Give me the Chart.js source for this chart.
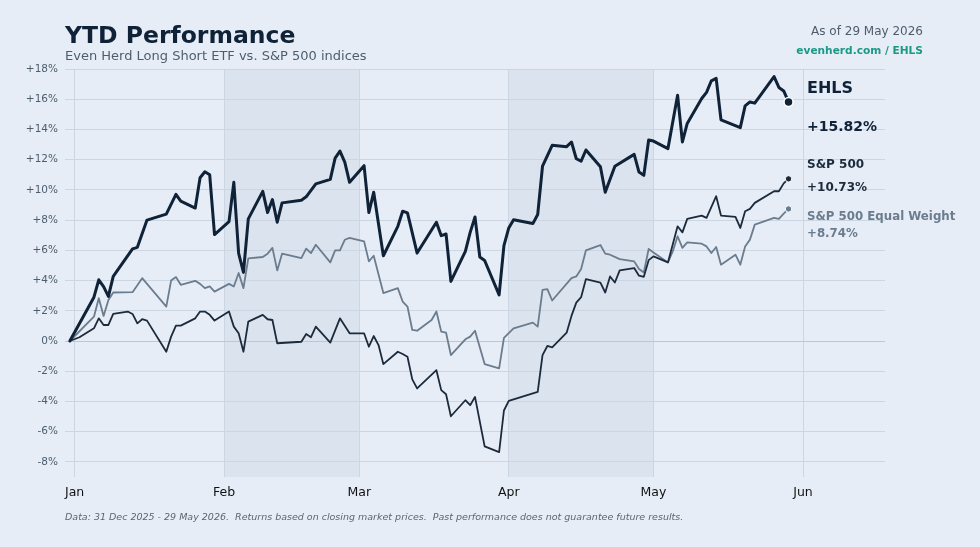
<!DOCTYPE html>
<html>
<script src="https://cdn.jsdelivr.net/npm/chart.js@4.4.1/dist/chart.umd.min.js"></script>
<body style="margin:0;background-color:#e6edf7;">
<canvas id="perfChart" width="980" height="547"></canvas>

<script>
// x values are days since 1 Jan 2026 (31 Dec 2025 = -1)
var monthDays = [0, 31, 59, 90, 120, 151];
var monthLabels = ['Jan', 'Feb', 'Mar', 'Apr', 'May', 'Jun'];
var yTicks = [-8, -6, -4, -2, 0, 2, 4, 6, 8, 10, 12, 14, 16, 18];
var shadedMonths = [[31, 59], [90, 120]];

var ehlsDays = [-1,4,5,6,7,8,12,13,15,19,21,22,25,26,27,28,29,32,33,34,35,36,39,40,41,42,43,47,48,50,53,54,55,56,57,60,61,62,64,67,68,69,71,75,76,77,78,81,82,83,84,85,88,89,90,91,95,96,97,99,102,103,104,105,106,109,110,112,116,117,118,119,120,123,125,126,127,130,131,132,133,134,138,139,140,141,145,146,147,148];
var ehlsValues = [0,2.9,4.05,3.6,2.95,4.27,6.1,6.2,8.0,8.4,9.7,9.25,8.8,10.8,11.2,11.0,7.04,7.9,10.5,5.8,4.54,8.08,9.9,8.5,9.36,7.86,9.14,9.32,9.54,10.4,10.7,12.1,12.57,11.84,10.5,11.6,8.5,9.85,5.64,7.59,8.59,8.48,5.82,7.86,6.97,7.08,3.94,5.93,7.19,8.21,5.56,5.33,3.05,6.31,7.48,8.03,7.77,8.37,11.57,12.95,12.86,13.17,12.06,11.9,12.64,11.53,9.85,11.57,12.35,11.18,10.96,13.3,13.23,12.73,16.27,13.17,14.4,16.05,16.45,17.22,17.38,14.63,14.12,15.56,15.82,15.74,17.5,16.78,16.55,15.82];

var spxDays = [-1,1,4,5,6,7,8,11,12,13,14,15,19,20,21,22,25,26,27,28,29,32,33,34,35,36,39,40,41,42,47,48,49,50,53,55,57,60,61,62,63,64,67,68,69,70,71,75,76,77,78,81,82,83,85,88,89,90,96,97,98,99,102,103,104,105,106,109,110,111,112,113,116,117,118,119,120,123,125,126,127,130,131,133,134,137,138,139,140,141,145,146,147,148];
var spxValues = [0,0.25,0.84,1.5,1.06,1.06,1.79,1.95,1.79,1.17,1.44,1.35,-0.71,0.29,1.02,1.02,1.5,1.95,1.95,1.73,1.35,1.95,0.95,0.51,-0.71,1.28,1.73,1.44,1.39,-0.15,-0.05,0.46,0.25,0.95,-0.11,1.5,0.51,0.51,-0.38,0.33,-0.27,-1.53,-0.71,-0.86,-1.04,-2.54,-3.14,-1.93,-3.25,-3.52,-4.98,-3.92,-4.25,-3.7,-6.97,-7.35,-4.6,-3.96,-3.36,-0.93,-0.33,-0.42,0.55,1.66,2.54,2.9,4.1,3.87,3.21,4.27,3.87,4.67,4.83,4.32,4.25,5.35,5.6,5.2,7.59,7.19,8.08,8.3,8.15,9.58,8.3,8.21,7.48,8.59,8.74,9.14,9.91,9.91,10.43,10.73];

var eqwDays = [-1,4,5,6,7,8,12,14,19,20,21,22,25,26,27,28,29,32,33,34,35,36,39,40,41,42,43,47,48,49,50,53,54,55,56,57,60,61,62,64,67,68,69,70,71,74,75,76,77,78,81,82,83,85,88,89,91,95,96,97,98,99,103,104,105,106,109,110,111,113,116,117,118,119,120,123,124,125,126,127,130,131,132,133,134,137,138,139,140,141,145,146,147,148];
var eqwValues = [0,1.61,2.83,1.66,2.72,3.21,3.23,4.16,2.28,4.0,4.23,3.72,3.98,3.78,3.5,3.61,3.27,3.78,3.61,4.5,3.5,5.47,5.56,5.78,6.16,4.67,5.78,5.49,6.11,5.82,6.37,5.2,6.0,6.0,6.7,6.82,6.6,5.27,5.64,3.17,3.5,2.61,2.28,0.73,0.68,1.39,1.95,0.62,0.55,-0.93,0.11,0.29,0.68,-1.53,-1.81,0.2,0.84,1.22,0.95,3.39,3.43,2.68,4.16,4.27,4.76,6.0,6.35,5.78,5.71,5.42,5.27,4.76,4.54,6.09,5.86,5.2,5.93,6.93,6.16,6.53,6.44,6.26,5.82,6.22,5.05,5.71,5.05,6.26,6.71,7.7,8.15,8.08,8.43,8.74];

var seriesNames = ['EHLS', 'S&P 500', 'S&P 500 Equal Weight'];
var seriesColors = ['#0f2238', '#1c2b3c', '#6b7c8e'];

function toPoints(days, values) {
  return days.map((d, i) => ({x: d, y: values[i]}));
}
function lastLabel(values) {
  var v = values[values.length - 1];
  return (v >= 0 ? '+' : '') + v.toFixed(2) + '%';
}
function endDot(r) {
  return ctx => ctx.dataIndex === ctx.dataset.data.length - 1 ? r : 0;
}

var decor = {
  id: 'decor',
  beforeDraw(chart) {
    var c = chart.ctx, a = chart.chartArea, x = chart.scales.x;
    c.save();
    c.fillStyle = '#e6edf7';
    c.fillRect(0, 0, chart.width, chart.height);
    c.fillStyle = '#dbe3ee';
    shadedMonths.forEach(m => {
      var x0 = x.getPixelForValue(m[0]), x1 = x.getPixelForValue(m[1]);
      c.fillRect(x0, a.top, x1 - x0, a.bottom - a.top);
    });
    c.restore();
  },
  afterDraw(chart) {
    var c = chart.ctx;
    c.save();
    c.textBaseline = 'alphabetic';
    c.textAlign = 'left';
    c.fillStyle = '#0f2238';
    c.font = 'bold 23.5px "DejaVu Sans"';
    c.fillText('YTD Performance', 65, 43);
    c.fillStyle = '#4d5d6e';
    c.font = '13px "DejaVu Sans"';
    c.fillText('Even Herd Long Short ETF vs. S&P 500 indices', 65, 60);

    c.textAlign = 'right';
    c.font = '12px "DejaVu Sans"';
    c.fillText('As of 29 May 2026', 923, 35);
    c.fillStyle = '#1a9985';
    c.font = 'bold 10.6px "DejaVu Sans"';
    c.fillText('evenherd.com / EHLS', 923, 53.5);

    // end labels
    c.textAlign = 'left';
    c.fillStyle = seriesColors[0];
    c.font = 'bold 16px "DejaVu Sans"';
    c.fillText(seriesNames[0], 807, 92.5);
    c.font = 'bold 14px "DejaVu Sans"';
    c.fillText(lastLabel(ehlsValues), 807, 130.5);
    c.fillStyle = seriesColors[1];
    c.font = 'bold 12px "DejaVu Sans"';
    c.fillText(seriesNames[1], 807, 167.5);
    c.fillText(lastLabel(spxValues), 807, 190.5);
    c.fillStyle = seriesColors[2];
    c.font = 'bold 11.8px "DejaVu Sans"';
    c.fillText(seriesNames[2], 807, 220);
    c.fillText(lastLabel(eqwValues), 807, 237);

    c.fillStyle = '#5a6573';
    c.font = 'italic 9.5px "DejaVu Sans"';
    c.fillText('Data: 31 Dec 2025 - 29 May 2026.  Returns based on closing market prices.  Past performance does not guarantee future results.', 65, 520);
    c.restore();
  }
};

Chart.defaults.font.family = '"DejaVu Sans"';

new Chart('perfChart', {
  type: 'line',
  data: {
    datasets: [{
      label: seriesNames[0],
      data: toPoints(ehlsDays, ehlsValues),
      borderColor: seriesColors[0],
      backgroundColor: seriesColors[0],
      borderWidth: 3,
      pointRadius: endDot(4.5),
      pointBorderColor: '#ffffff',
      pointBorderWidth: 1.5
    }, {
      label: seriesNames[1],
      data: toPoints(spxDays, spxValues),
      borderColor: seriesColors[1],
      backgroundColor: seriesColors[1],
      borderWidth: 1.8,
      pointRadius: endDot(3.2),
      pointBorderColor: '#ffffff',
      pointBorderWidth: 1
    }, {
      label: seriesNames[2],
      data: toPoints(eqwDays, eqwValues),
      borderColor: seriesColors[2],
      backgroundColor: seriesColors[2],
      borderWidth: 1.8,
      pointRadius: endDot(3.2),
      pointBorderColor: '#ffffff',
      pointBorderWidth: 1
    }]
  },
  options: {
    responsive: false,
    animation: false,
    elements: {line: {tension: 0, borderJoinStyle: 'round', borderCapStyle: 'round'}},
    layout: {padding: {top: 69, right: 95, bottom: 0, left: 0}},
    plugins: {legend: {display: false}, tooltip: {enabled: false}},
    scales: {
      x: {
        type: 'linear',
        min: -2,
        max: 168,
        afterBuildTicks: s => { s.ticks = monthDays.map(v => ({value: v})); },
        afterFit: s => { s.height = 70; },
        border: {display: false},
        grid: {color: '#cbd6e2', drawTicks: false},
        ticks: {
          callback: (v, i) => monthLabels[i],
          color: '#111111',
          font: {size: 12.5},
          padding: 8,
          autoSkip: false,
          maxRotation: 0
        }
      },
      y: {
        min: -9,
        max: 18,
        afterBuildTicks: s => { s.ticks = yTicks.map(v => ({value: v})); },
        afterFit: s => { s.width = 65; },
        border: {display: false},
        grid: {color: ctx => ctx.tick && ctx.tick.value === 0 ? '#b9c7d6' : '#cbd6e2', drawTicks: false},
        ticks: {
          callback: v => (v > 0 ? '+' : '') + v + '%',
          color: '#4d5d6e',
          font: {size: 10.5},
          padding: 7
        }
      }
    }
  },
  plugins: [decor]
});
</script>
</body>
</html>
